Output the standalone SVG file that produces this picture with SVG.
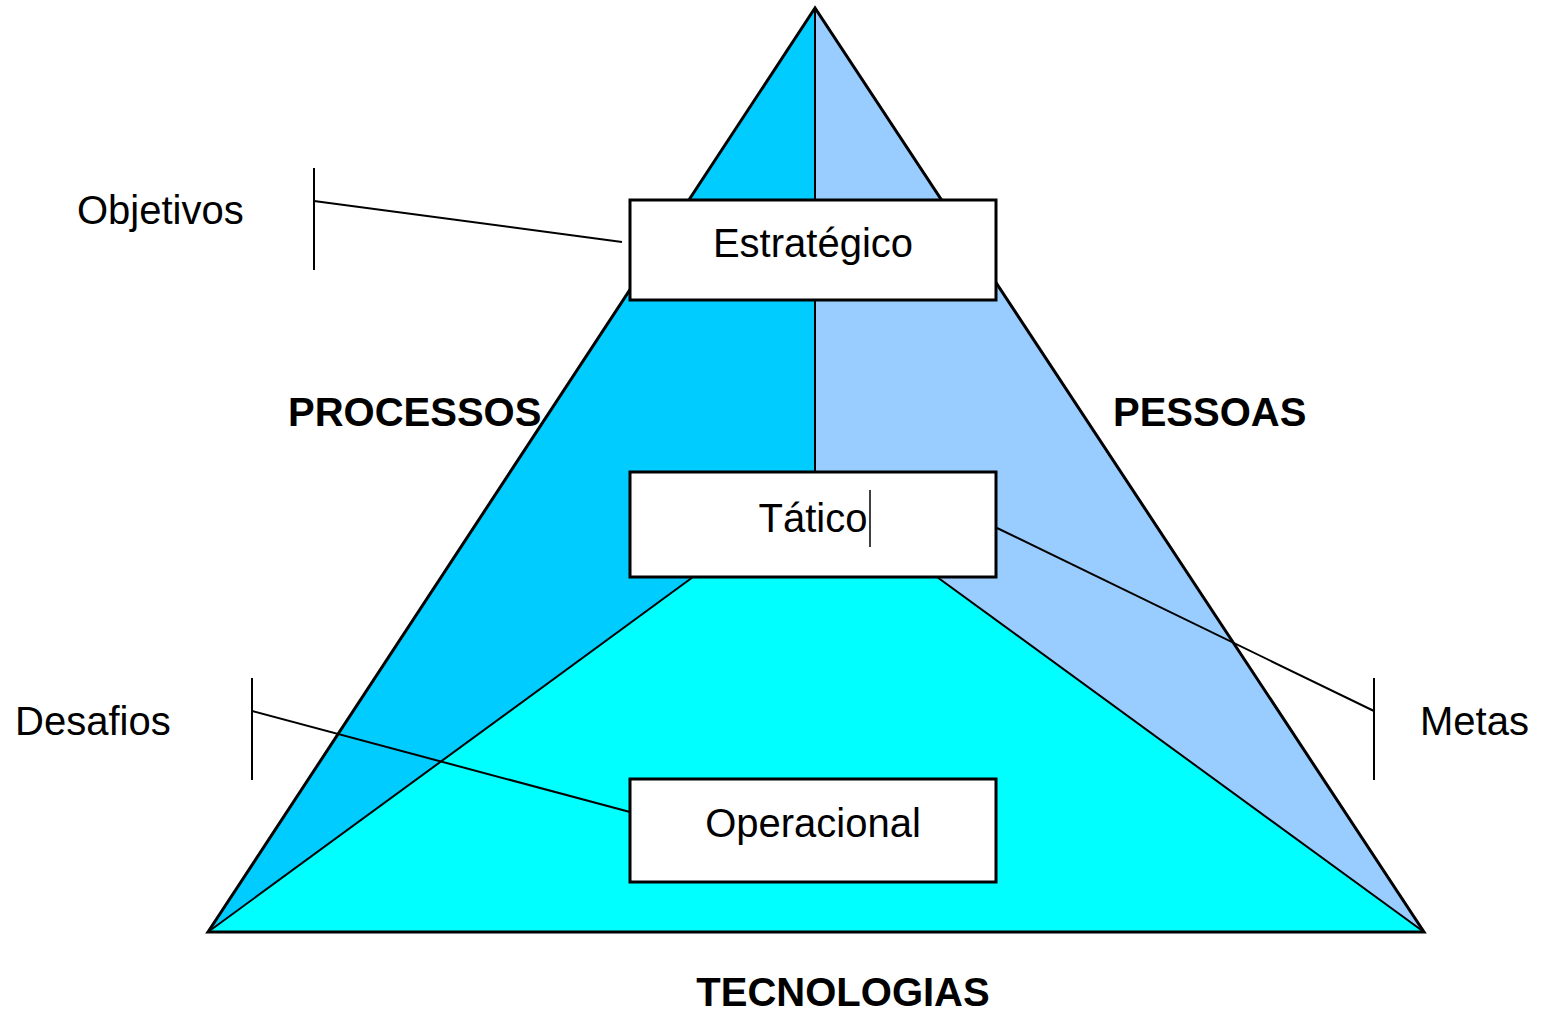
<svg xmlns="http://www.w3.org/2000/svg" width="1543" height="1011" viewBox="0 0 1543 1011">
<style>
.t{font-family:"Liberation Sans",Arial,sans-serif;font-size:40px;fill:#000}
.b{font-weight:bold}
.box{fill:#fff;stroke:#000;stroke-width:3}
.ln{stroke:#000;stroke-width:2;fill:none}
.edge{stroke:#000;stroke-width:3;fill:none;stroke-linejoin:miter}
</style>
<rect width="1543" height="1011" fill="#fff"/>
<g id="pyramid">
<polygon points="815,8 208,932 693,577 815,577" fill="#00CCFF"/>
<polygon points="815,8 815,577 937,577 1424,932" fill="#99CCFF"/>
<polygon points="208,932 693,577 937,577 1424,932" fill="#00FFFF"/>
<line class="ln" x1="815" y1="8" x2="815" y2="577"/>
<line class="ln" x1="208" y1="932" x2="693" y2="577"/>
<line class="ln" x1="937" y1="577" x2="1424" y2="932"/>
<polygon class="edge" points="815,8 208,932 1424,932"/>
</g>
<g id="connectors">
<line class="ln" x1="314" y1="168" x2="314" y2="270"/>
<line class="ln" x1="314" y1="201" x2="622" y2="242"/>
<line class="ln" x1="252" y1="678" x2="252" y2="780"/>
<line class="ln" x1="252" y1="711" x2="630" y2="812"/>
<line class="ln" x1="1374" y1="678" x2="1374" y2="780"/>
<line class="ln" x1="997" y1="528" x2="1374" y2="711"/>
</g>
<g id="estrategico">
<rect class="box" x="630" y="200" width="366" height="100"/>
<text class="t" x="813" y="257" text-anchor="middle">Estratégico</text>
</g>
<g id="tatico">
<rect class="box" x="630" y="472" width="366" height="105"/>
<text class="t" x="813" y="532" text-anchor="middle">Tático</text>
<line x1="870" y1="490" x2="870" y2="547" stroke="#000" stroke-width="1.5"/>
</g>
<g id="operacional">
<rect class="box" x="630" y="779" width="366" height="103"/>
<text class="t" x="813" y="837" text-anchor="middle">Operacional</text>
</g>
<g id="labels">
<text class="t" x="77" y="224">Objetivos</text>
<text class="t" x="15" y="735">Desafios</text>
<text class="t" x="1420" y="735">Metas</text>
<text class="t b" x="288" y="426">PROCESSOS</text>
<text class="t b" x="1113" y="426">PESSOAS</text>
<text class="t b" x="843" y="1006" text-anchor="middle">TECNOLOGIAS</text>
</g>
</svg>
